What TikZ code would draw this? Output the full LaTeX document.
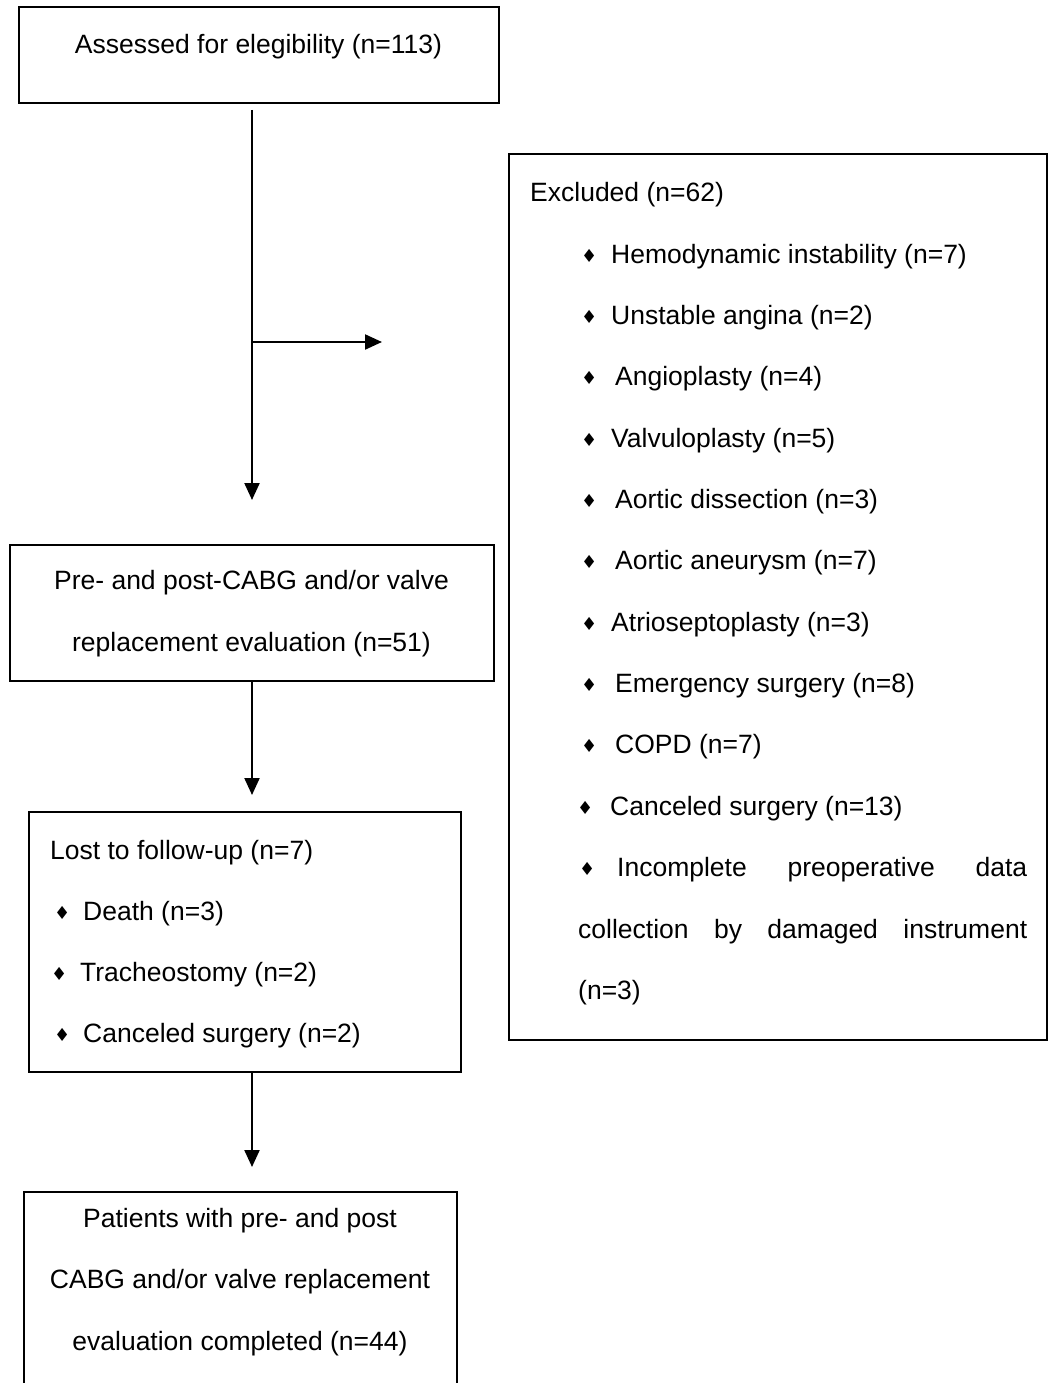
\documentclass[tikz,border=0pt]{standalone}
\usepackage{fontspec}
\setmainfont{Liberation Sans}
\newfontfamily\symf{DejaVu Sans}
\usetikzlibrary{arrows.meta}
\newcommand{\dia}{\raisebox{1pt}{\symf\fontsize{18}{18}\selectfont ♦}}
\newcommand{\bl}[2]{\makebox[#1][l]{\dia}#2}
\tikzset{
  box/.style={draw, line width=1.6pt, rectangle, inner sep=0pt},
  txt/.style={font=\fontsize{26.5}{61.3}\selectfont, inner sep=0pt},
  li/.style={txt, anchor=base west},
  arr/.style={line width=2.2pt, -{Triangle[length=17pt,width=15pt]}}
}
\begin{document}
\begin{tikzpicture}[x=1pt,y=-1pt]
\useasboundingbox (0,0) rectangle (1051,1383);
% boxes
\node[box, minimum width=480pt, minimum height=96pt] (b1) at (259,55) {};
\node[box, minimum width=484pt, minimum height=136pt] (b2) at (252,613) {};
\node[box, minimum width=538pt, minimum height=886pt] (bx) at (778,597) {};
\node[box, minimum width=432pt, minimum height=260pt] (b3) at (245,942) {};
\coordinate (b4a) at (24,1383);
\coordinate (b4b) at (24,1192);
\coordinate (b4c) at (457,1192);
\coordinate (b4d) at (457,1383);
\draw[line width=1.6pt] (b4a) -- (b4b) -- (b4c) -- (b4d);
% texts
\node[txt] (t1) at (258.5,47) {Assessed for elegibility (n=113)};
\node[txt, align=center] (t2) at (251.5,613.5) {Pre- and post-CABG and/or valve\\replacement evaluation (n=51)};
\node[txt, align=center] (t4) at (240,1282) {Patients with pre- and post\\CABG and/or valve replacement\\evaluation completed (n=44)};
% excluded list
\node[li] (e0) at (530,201) {Excluded (n=62)};
\node[li] (e1) at (581,263) {\bl{30pt}{Hemodynamic instability (n=7)}};
\node[li] (e2) at (581,324) {\bl{30pt}{Unstable angina (n=2)}};
\node[li] (e3) at (581,385) {\bl{34pt}{Angioplasty (n=4)}};
\node[li] (e4) at (581,447) {\bl{30pt}{Valvuloplasty (n=5)}};
\node[li] (e5) at (581,508) {\bl{34pt}{Aortic dissection (n=3)}};
\node[li] (e6) at (581,569) {\bl{34pt}{Aortic aneurysm (n=7)}};
\node[li] (e7) at (581,631) {\bl{30pt}{Atrioseptoplasty (n=3)}};
\node[li] (e8) at (581,692) {\bl{34pt}{Emergency surgery (n=8)}};
\node[li] (e9) at (581,753) {\bl{34pt}{COPD (n=7)}};
\node[li] (e10) at (577,815) {\bl{33pt}{Canceled surgery (n=13)}};
\node[li] (e11) at (578,876) {\makebox[449pt][s]{\makebox[39pt][l]{\hspace{1pt}\dia}Incomplete preoperative data}};
\node[li] (e12) at (578,938) {\makebox[449pt][s]{collection by damaged instrument}};
\node[li] (e13) at (578,999) {(n=3)};
% lost list
\node[li] (l0) at (50,859) {Lost to follow-up (n=7)};
\node[li] (l1) at (54,920) {\bl{29pt}{Death (n=3)}};
\node[li] (l2) at (51,981) {\bl{29pt}{Tracheostomy (n=2)}};
\node[li] (l3) at (54,1042) {\bl{29pt}{Canceled surgery (n=2)}};
% connectors
\coordinate (a0) at (252,110);
\coordinate (a1) at (252,500);
\coordinate (br) at (252,342);
\coordinate (brE) at (382,342);
\coordinate (a2) at (252,795);
\coordinate (a3) at (252,1167);
\draw[arr] (a0) -- (a1);
\draw[arr] (br) -- (brE);
\draw[arr] (b2.south) -- (a2);
\draw[arr] (b3.south -| a3) -- (a3);
\end{tikzpicture}
\end{document}
